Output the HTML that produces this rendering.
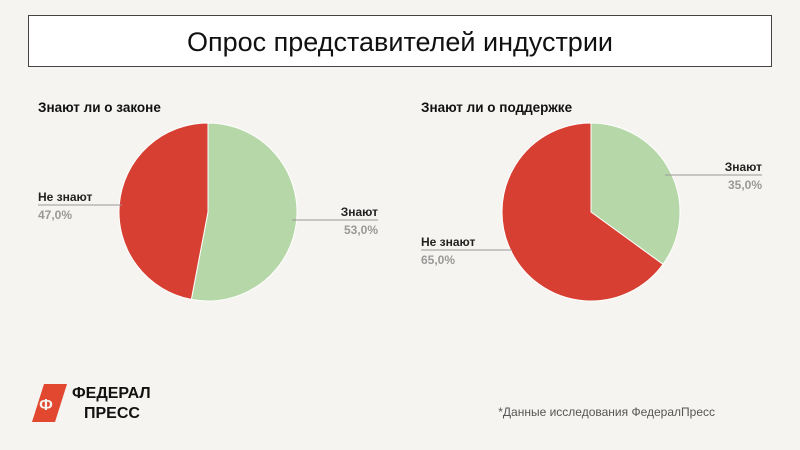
<!DOCTYPE html>
<html><head><meta charset="utf-8"><style>
body{margin:0;width:800px;height:450px;background:#f5f4f0;font-family:"Liberation Sans",sans-serif;overflow:hidden}
svg{position:absolute;left:0;top:0}
</style></head><body>
<svg width="800" height="450">
<rect x="28.5" y="15.5" width="743" height="51" fill="#fff" stroke="#444" stroke-width="1"/>
<text x="400" y="51" text-anchor="middle" font-size="27" fill="#111">Опрос представителей индустрии</text>
<text x="38" y="112" font-size="13.5" font-weight="bold" fill="#111">Знают ли о законе</text>
<text x="421" y="112" font-size="13.5" font-weight="bold" fill="#111">Знают ли о поддержке</text>
<g id="pies"></g>
<g>
<polygon points="44,384 67,384 55,422 32,422" fill="#e2472f"/>
<text x="46" y="410" font-size="16" font-weight="bold" fill="#f5f4f0" text-anchor="middle">Ф</text>
<text x="72" y="398" font-size="16" font-weight="bold" fill="#111">ФЕДЕРАЛ</text>
<text x="84" y="418" font-size="16" font-weight="bold" fill="#111">ПРЕСС</text>
</g>
<text x="715" y="416" text-anchor="end" font-size="12" fill="#555">*Данные исследования ФедералПресс</text>
</svg>
<script>
const pie1Labels=["Знают","Не знают"];
const pie1Values=[53,47];
const pie2Labels=["Знают","Не знают"];
const pie2Values=[35,65];
const colors=["#b6d7a8","#d63f31"];
const NS="http://www.w3.org/2000/svg";
const g=document.getElementById('pies');
function mk(t,a,p){const e=document.createElementNS(NS,t);for(const k in a)e.setAttribute(k,a[k]);(p||g).appendChild(e);return e;}
function pie(cx,cy,r,labels,values,idx,labelPos){
  const tot=values.reduce((a,b)=>a+b,0);let a0=0;
  values.forEach((v,i)=>{
    const a1=a0+v/tot*2*Math.PI;
    const x0=cx+r*Math.sin(a0),y0=cy-r*Math.cos(a0),x1=cx+r*Math.sin(a1),y1=cy-r*Math.cos(a1);
    const p=mk('path',{d:`M${cx},${cy}L${x0},${y0}A${r},${r} 0 ${a1-a0>Math.PI?1:0} 1 ${x1},${y1}Z`,fill:colors[i],stroke:'#fff','stroke-width':1});
    
    
    const lp=labelPos[i];
    const l=mk('line',{x1:lp.x1,y1:lp.y,x2:lp.x2,y2:lp.y,stroke:'#999','stroke-width':1});
    
    
    const tx=lp.anchor==='end'?lp.x2:lp.x1;
    const t1=mk('text',{x:tx,y:lp.y-4,'font-size':12,'font-weight':'bold',fill:'#222','text-anchor':lp.anchor});
    t1.textContent=labels[i];
    
    
    const t2=mk('text',{x:tx,y:lp.y+14,'font-size':12,'font-weight':'bold',fill:'#999','text-anchor':lp.anchor});
    t2.textContent=v.toFixed(1).replace('.',',')+'%';
    
    
    a0=a1;
  });
}
pie(208,212,89,pie1Labels,pie1Values,1,[{x1:292,x2:378,y:220,anchor:'end'},{x1:38,x2:122,y:205,anchor:'start'}]);
pie(591,212,89,pie2Labels,pie2Values,2,[{x1:665,x2:762,y:175,anchor:'end'},{x1:421,x2:512,y:250,anchor:'start'}]);
</script>
</body></html>
